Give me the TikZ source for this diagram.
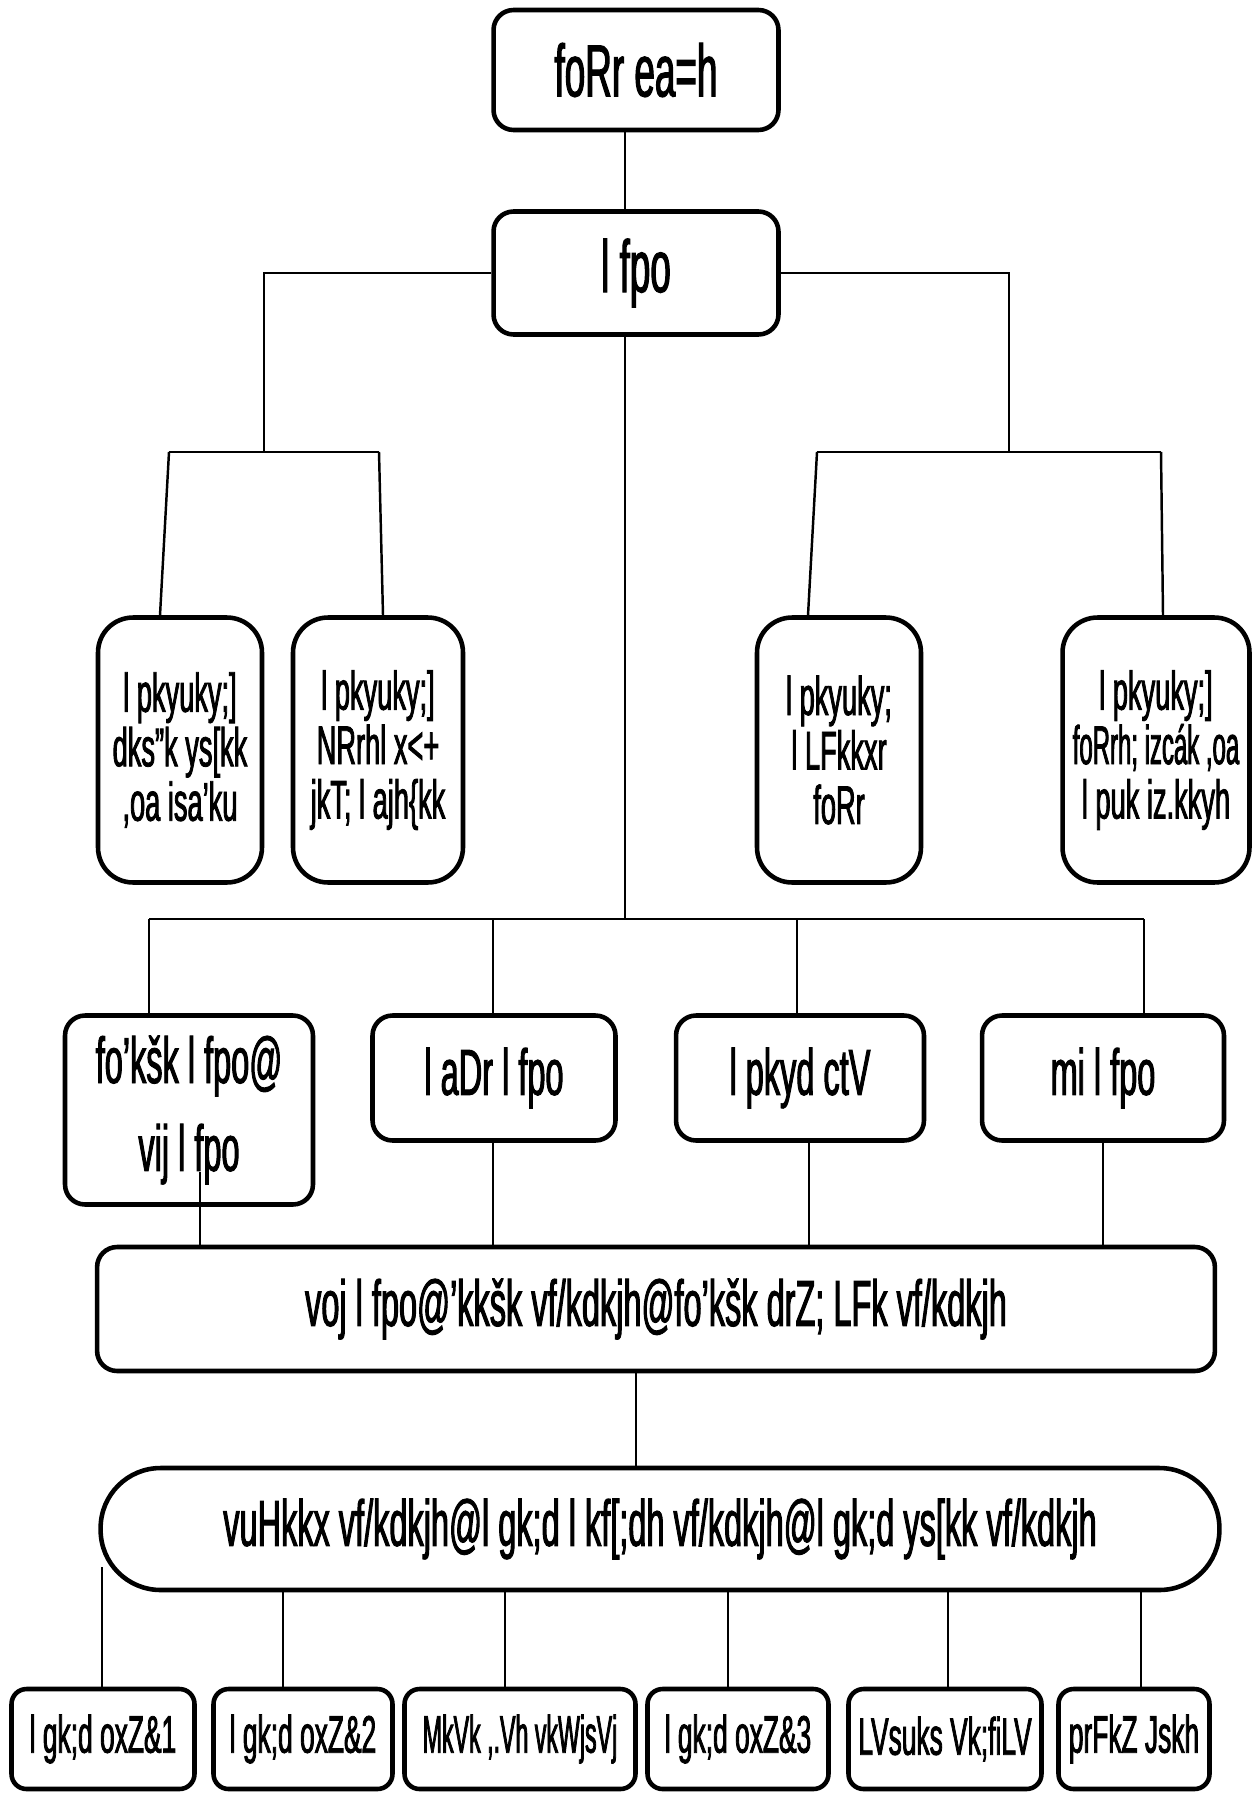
\documentclass[tikz,border=0pt]{standalone}
\usepackage{fontspec}
\setmainfont{Liberation Sans}[FakeStretch=0.5, FakeBold=1.5]
\newfontfamily\narrowfont{Liberation Sans}[FakeStretch=0.44, FakeBold=1.5]
\usepackage{tikz}
\tikzset{
  box/.style={draw, line width=2.6pt, rounded corners=0.4cm, align=center, inner sep=0pt},
  tallbox/.style={box, rounded corners=0.7cm, minimum height=5.3cm, font=\fontsize{31}{31}\selectfont},
  midbox/.style={box, font=\fontsize{37}{50}\selectfont},
  lowbox/.style={box, rounded corners=0.3cm, minimum height=2cm, font=\fontsize{30}{30}\selectfont},
  link/.style={line width=1.4pt}
}

\begin{document}
\begin{tikzpicture}[x=0.02cm, y=-0.02cm]
  \useasboundingbox (0,0) rectangle (1254,1794);
  % boxes
  \node[box, minimum width=5.7cm, minimum height=2.4cm, font=\fontsize{42}{42}\selectfont] (mantri) at (636,70) {foRr ea=h};
  \node[box, minimum width=5.7cm, minimum height=2.46cm, font=\fontsize{42}{42}\selectfont] (sachiv) at (636,273) {l fpo};

  \node[tallbox, minimum width=3.28cm] (kosh) at (180,750) {l pkyuky;]\\dks"k ys[kk\\,oa isa'ku};
  \node[tallbox, minimum width=3.4cm] (cg) at (378,750) {l pkyuky;]\\NRrhl x<+\\jkT; l ajh\{kk};
  \node[tallbox, minimum width=3.28cm] (sansth) at (839,750) {l pkyuky;\\l LFkkxr\\foRr};
  \node[tallbox, minimum width=3.74cm] (soochna) at (1156,750) {l pkyuky;]\\{\narrowfont foRrh; izcák ,oa}\\l puk iz.kkyh};

  \node[midbox, minimum width=4.96cm, minimum height=3.78cm] (vishesh) at (189,1110) {fo’kšk l fpo@\\vij l fpo};
  \node[midbox, minimum width=4.86cm, minimum height=2.5cm] (sanyukt) at (494,1078) {l aDr l fpo};
  \node[midbox, minimum width=4.96cm, minimum height=2.5cm] (budget) at (800,1078) {l pkyd ctV};
  \node[midbox, minimum width=4.84cm, minimum height=2.5cm] (up) at (1103,1078) {mi l fpo};

  \node[midbox, minimum width=22.36cm, minimum height=2.48cm] (avar) at (656,1309) {voj l fpo@’kkšk vf/kdkjh@fo’kšk drZ; LFk vf/kdkjh};
  \node[midbox, rounded corners=1.2cm, minimum width=22.38cm, minimum height=2.44cm] (anubhag) at (660,1529) {vuHkkx vf/kdkjh@l gk;d l kf[;dh vf/kdkjh@l gk;d ys[kk vf/kdkjh};

  \node[lowbox, minimum width=3.66cm] (g1) at (103,1739) {l gk;d oxZ\&1};
  \node[lowbox, minimum width=3.58cm] (g2) at (303,1739) {l gk;d oxZ\&2};
  \node[lowbox, minimum width=4.62cm] (deo) at (520,1739) {\narrowfont MkVk ,.Vh vkWjsVj};
  \node[lowbox, minimum width=3.62cm] (g3) at (738,1739) {l gk;d oxZ\&3};
  \node[lowbox, minimum width=3.86cm] (steno) at (945,1739) {LVsuks Vk;fiLV};
  \node[lowbox, minimum width=3.02cm] (chaturth) at (1134,1739) {prFkZ Jskh};

  % connectors
  \coordinate (tx) at (625,0);
  \draw[link] (mantri.south -| tx) -- (sachiv.north -| tx);

  \coordinate (lj) at (264,452);
  \coordinate (la) at (169,452);
  \coordinate (lb) at (379,452);
  \draw[link] (sachiv.west) -| (lj);
  \draw[link] (la) -- (lb);
  \draw[link] (la) -- ([xshift=-0.4cm]kosh.north);
  \draw[link] (lb) -- ([xshift=0.1cm]cg.north);

  \coordinate (rj) at (1009,452);
  \coordinate (ra) at (817,452);
  \coordinate (rb) at (1161,452);
  \draw[link] (sachiv.east) -| (rj);
  \draw[link] (ra) -- (rb);
  \draw[link] (ra) -- ([xshift=-0.62cm]sansth.north);
  \draw[link] (rb) -- ([xshift=0.14cm]soochna.north);

  \coordinate (mj) at (625,919);
  \draw[link] (sachiv.south -| mj) -- (mj);
  \draw[link] (149,919) -- (1144,919);
  \foreach \n/\x in {vishesh/149,sanyukt/493,budget/797,up/1144}
    \draw[link] (\x,919) -- (\x,0 |- \n.north);

  \draw[link] (200,1172) -- (200,0 |- avar.north);
  \foreach \n/\x in {sanyukt/493,budget/809,up/1103}
    \draw[link] (\x,0 |- \n.south) -- (\x,0 |- avar.north);

  \draw[link] (636,0 |- avar.south) -- (636,0 |- anubhag.north);

  \draw[link] (102,1567) -- (102,0 |- g1.north);
  \foreach \n/\x in {g2/283,deo/505,g3/728,steno/948,chaturth/1141}
    \draw[link] (\x,0 |- anubhag.south) -- (\x,0 |- \n.north);
\end{tikzpicture}
\end{document}
